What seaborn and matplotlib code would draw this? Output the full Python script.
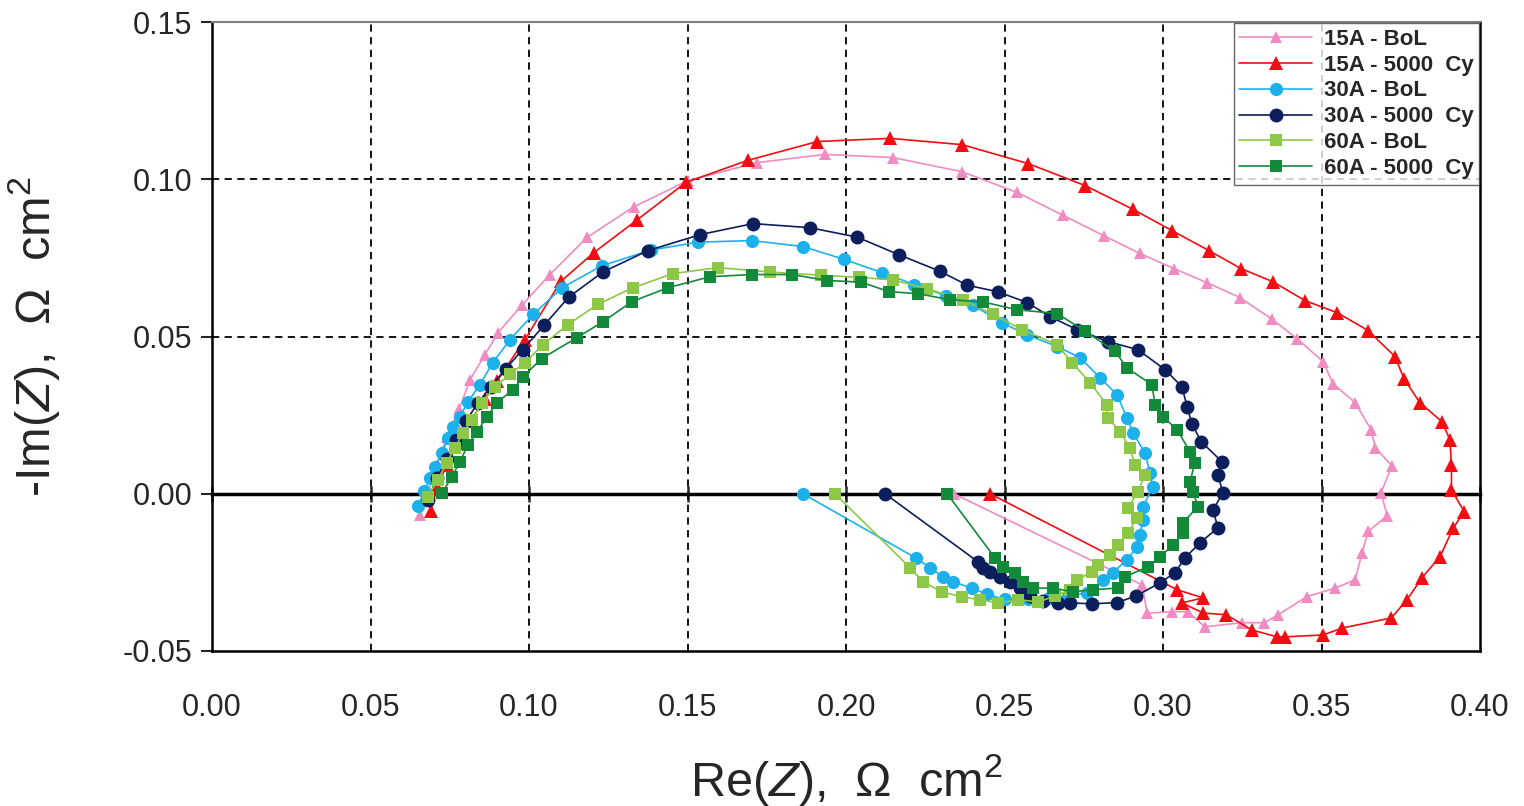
import numpy as np
import pandas as pd
import seaborn as sns
import matplotlib.pyplot as plt

# %% data (Re(Z), -Im(Z) in Ohm cm2)
labels = ['15A - BoL', '15A - 5000  Cy', '30A - BoL', '30A - 5000  Cy', '60A - BoL', '60A - 5000  Cy']

re_15_bol = [0.0656, 0.068, 0.071, 0.074, 0.078, 0.0814, 0.086, 0.0902, 0.0978, 0.1066, 0.1183, 0.133, 0.150, 0.172,
             0.1934, 0.2148, 0.2366, 0.254, 0.2685, 0.2814, 0.2927, 0.3035, 0.3139, 0.3242, 0.3344, 0.3423, 0.3505,
             0.3536, 0.3606, 0.3656, 0.367, 0.3722, 0.3688, 0.3707, 0.3647, 0.3628, 0.3606, 0.3543, 0.3454, 0.3363,
             0.332, 0.325, 0.3132, 0.3079, 0.3028, 0.295, 0.2934, 0.234]
im_15_bol = [-0.0067, 0.0, 0.009, 0.018, 0.027, 0.0363, 0.044, 0.0512, 0.060, 0.0697, 0.0815, 0.0912, 0.0995, 0.1053,
             0.1079, 0.1069, 0.1024, 0.0958, 0.0885, 0.082, 0.0764, 0.0716, 0.0671, 0.0624, 0.0555, 0.0493, 0.042,
             0.035, 0.029, 0.0204, 0.0146, 0.0089, 0.0003, -0.007, -0.012, -0.0188, -0.0274, -0.030, -0.0327, -0.0385,
             -0.041, -0.041, -0.0423, -0.0375, -0.0375, -0.038, -0.029, 0.0]

re_15_cy = [0.069, 0.071, 0.074, 0.0775, 0.0815, 0.086, 0.090, 0.0987, 0.110, 0.1205, 0.134, 0.1495, 0.169, 0.191,
            0.214, 0.2366, 0.2574, 0.2754, 0.2906, 0.3028, 0.3145, 0.3246, 0.3347, 0.3448, 0.3549, 0.3647, 0.3732,
            0.376, 0.381, 0.388, 0.3905, 0.391, 0.391, 0.395, 0.3915, 0.3874, 0.3817, 0.377, 0.372, 0.3565, 0.3505,
            0.3385, 0.336, 0.328, 0.320, 0.3126, 0.306, 0.3126, 0.3044, 0.2454]
im_15_cy = [-0.0055, 0.002, 0.009, 0.016, 0.023, 0.030, 0.036, 0.049, 0.0675, 0.0767, 0.087, 0.099, 0.106, 0.112,
            0.113, 0.111, 0.105, 0.098, 0.0904, 0.0837, 0.0773, 0.0716, 0.0674, 0.0614, 0.0576, 0.0519, 0.0436,
            0.0366, 0.029, 0.0229, 0.0172, 0.0092, 0.0013, -0.0057, -0.011, -0.020, -0.0267, -0.0337, -0.0395, -0.0427,
            -0.0449, -0.0455, -0.0455, -0.0433, -0.0385, -0.0379, -0.0347, -0.0331, -0.0305, 0.0]

re_30_bol = [0.065, 0.067, 0.0688, 0.0703, 0.0726, 0.0745, 0.076, 0.0782, 0.0808, 0.0845, 0.0886, 0.094, 0.1013,
             0.1104, 0.123, 0.1385, 0.1533, 0.1703, 0.1864, 0.1995, 0.2114, 0.2216, 0.2315, 0.240, 0.2492, 0.257,
             0.2666, 0.2738, 0.2801, 0.2855, 0.2886, 0.2905, 0.2943, 0.2959, 0.2968, 0.2937, 0.2937, 0.2927, 0.2918,
             0.2886, 0.2842, 0.281, 0.276, 0.270, 0.264, 0.2575, 0.250, 0.2445, 0.2397, 0.2338, 0.2306, 0.2265,
             0.222, 0.1864]
im_30_bol = [-0.004, 0.001, 0.005, 0.0086, 0.013, 0.0178, 0.0213, 0.0245, 0.0293, 0.0347, 0.0417, 0.049, 0.057,
             0.0655, 0.0725, 0.0775, 0.080, 0.0805, 0.0786, 0.0745, 0.0703, 0.0665, 0.063, 0.060, 0.0544, 0.0506,
             0.0468, 0.0433, 0.0369, 0.0315, 0.0242, 0.0194, 0.013, 0.0067, 0.0022, -0.0041, -0.0083, -0.013, -0.0169,
             -0.021, -0.0251, -0.0274, -0.0315, -0.0325, -0.033, -0.0335, -0.0335, -0.032, -0.030, -0.028, -0.0264,
             -0.0235, -0.0204, 0.0]

re_30_cy = [0.068, 0.071, 0.074, 0.077, 0.080, 0.084, 0.088, 0.0927, 0.098, 0.1047, 0.1125, 0.1233, 0.1375, 0.154,
            0.1707, 0.1886, 0.2035, 0.2167, 0.2295, 0.2383, 0.248, 0.2571, 0.2644, 0.2729, 0.2826, 0.2921, 0.3006,
            0.306, 0.3076, 0.3091, 0.312, 0.3186, 0.3173, 0.3189, 0.3158, 0.3173, 0.3117, 0.3069, 0.3038, 0.2991,
            0.2915, 0.2855, 0.2776, 0.2707, 0.2669, 0.262, 0.258, 0.255, 0.2517, 0.2486, 0.2454, 0.2432, 0.2416,
            0.2123]
im_30_cy = [-0.002, 0.005, 0.011, 0.017, 0.023, 0.029, 0.034, 0.0398, 0.0458, 0.0535, 0.0625, 0.0705, 0.0773, 0.0824,
            0.0859, 0.0846, 0.0816, 0.076, 0.0708, 0.0663, 0.0642, 0.0608, 0.0563, 0.0522, 0.0484, 0.0458, 0.0395,
            0.034, 0.0277, 0.0223, 0.0166, 0.0102, 0.006, 0.0003, -0.0051, -0.0108, -0.0156, -0.0204, -0.0251, -0.0283,
            -0.0325, -0.0346, -0.035, -0.0347, -0.0347, -0.034, -0.0325, -0.030, -0.028, -0.0264, -0.0248, -0.0235,
            -0.0216, 0.0]

re_60_bol = [0.068, 0.0713, 0.074, 0.0767, 0.0792, 0.082, 0.0852, 0.0893, 0.094, 0.0987, 0.1044, 0.1123, 0.1218,
             0.1328, 0.1454, 0.1596, 0.176, 0.192, 0.204, 0.2148, 0.2255, 0.2369, 0.2464, 0.2555, 0.2666, 0.2713,
             0.277, 0.2823, 0.2826, 0.2864, 0.2896, 0.2912, 0.2943, 0.2921, 0.289, 0.2918, 0.289, 0.2858, 0.2833,
             0.2795, 0.2776, 0.2729, 0.2707, 0.266, 0.2606, 0.2543, 0.248, 0.2423, 0.2366, 0.2303, 0.2243, 0.2202,
             0.1965]
im_60_bol = [-0.001, 0.0045, 0.0099, 0.0146, 0.0194, 0.0235, 0.029, 0.034, 0.038, 0.0417, 0.0474, 0.0538, 0.0603,
             0.0655, 0.070, 0.0719, 0.0705, 0.0695, 0.0688, 0.068, 0.0652, 0.0617, 0.057, 0.0522, 0.0474, 0.0417,
             0.0353, 0.0283, 0.0242, 0.0197, 0.0146, 0.0092, 0.006, 0.0006, -0.0045, -0.0076, -0.0124, -0.0162,
             -0.0194, -0.0226, -0.0248, -0.0274, -0.0305, -0.0325, -0.0344, -0.0337, -0.0347, -0.0337, -0.0328,
             -0.0312, -0.028, -0.0235, 0.0]

re_60_cy = [0.0726, 0.0757, 0.0782, 0.0808, 0.0836, 0.0868, 0.0899, 0.095, 0.0981, 0.104, 0.1151, 0.1233, 0.1325,
            0.1438, 0.1571, 0.1703, 0.183, 0.194, 0.2047, 0.2135, 0.2227, 0.2328, 0.2432, 0.254, 0.2666, 0.2754,
            0.2849, 0.2886, 0.2965, 0.2975, 0.300, 0.3044, 0.3085, 0.3101, 0.3085, 0.3095, 0.311, 0.3063, 0.3063,
            0.3032, 0.2991, 0.2953, 0.288, 0.2858, 0.2779, 0.2716, 0.2653, 0.259, 0.2558, 0.2533, 0.2495, 0.247,
            0.2319]
im_60_cy = [0.0003, 0.0054, 0.0102, 0.0156, 0.0197, 0.0245, 0.029, 0.0331, 0.0372, 0.043, 0.0496, 0.0547, 0.0611,
            0.0655, 0.069, 0.0697, 0.0697, 0.0678, 0.0673, 0.0643, 0.0636, 0.0617, 0.061, 0.0585, 0.0573, 0.0517,
            0.0453, 0.040, 0.0347, 0.0283, 0.0245, 0.0204, 0.0134, 0.0099, 0.0038, 0.0006, -0.0041, -0.0092, -0.0124,
            -0.0162, -0.020, -0.0232, -0.0264, -0.030, -0.0305, -0.0312, -0.030, -0.030, -0.028, -0.0251, -0.0232,
            -0.0204, 0.0]

x_ticks = [0.00, 0.05, 0.10, 0.15, 0.20, 0.25, 0.30, 0.35, 0.40]
y_ticks = [-0.05, 0.00, 0.05, 0.10, 0.15]

# %% styling
colors = ['#F08CC2', '#F20D12', '#1DB1EC', '#0C1E5C', '#8CC846', '#128A3A']
markers = ['^', '^', 'o', 'o', 's', 's']
msizes = [9, 10, 9.5, 10, 9, 9]

series = [(re_15_bol, im_15_bol), (re_15_cy, im_15_cy), (re_30_bol, im_30_bol),
          (re_30_cy, im_30_cy), (re_60_bol, im_60_bol), (re_60_cy, im_60_cy)]

sns.set_style('white')
plt.rcParams['font.family'] = ['Liberation Sans', 'DejaVu Sans']
plt.rcParams['mathtext.fontset'] = 'custom'
plt.rcParams['mathtext.rm'] = 'Liberation Sans'
plt.rcParams['mathtext.it'] = 'Liberation Sans:italic'

fig = plt.figure(figsize=(15.24, 8.06), dpi=100)
ax = fig.add_axes([212 / 1524, 1 - 651 / 806, 1268 / 1524, 629 / 806])

# grid first so it sits below the data
for xv in x_ticks[1:-1]:
    ax.axvline(xv, color='black', lw=1.3, ls=(0, (4, 3)), zorder=1)
for yv in [0.05, 0.10]:
    ax.axhline(yv, color='black', lw=1.3, ls=(0, (4, 3)), zorder=1)

for (xs, ys), lab, c, m, s in zip(series, labels, colors, markers, msizes):
    df = pd.DataFrame({'re': xs, 'im': ys})
    sns.lineplot(data=df, x='re', y='im', sort=False, estimator=None, color=c, marker=m,
                 markersize=s, markeredgewidth=0, linewidth=1.2, label=lab, ax=ax, zorder=3)

ax.set_xlim(0, 0.40)
ax.set_ylim(-0.05, 0.15)
ax.set_xticks(x_ticks)
ax.set_xticklabels([f'{v:.2f}' for v in x_ticks])
ax.set_yticks(y_ticks)
ax.set_yticklabels([f'{v:.2f}' for v in y_ticks])
ax.tick_params(axis='x', length=0, pad=30, labelsize=22)
ax.tick_params(axis='y', direction='out', length=8, width=1.5, pad=6, labelsize=22, left=True)

for side in ['left', 'right', 'bottom']:
    ax.spines[side].set_color('black')
    ax.spines[side].set_linewidth(1.8)
ax.spines['top'].set_color('#808080')
ax.spines['top'].set_linewidth(1.5)

# zero line acts as the x axis with its tick marks
sec = ax.secondary_xaxis(0.25)
sec.set_xticks(x_ticks)
sec.tick_params(axis='x', direction='inout', length=12, width=1.8, labelbottom=False)
sec.spines['bottom'].set_linewidth(2.5)
sec.spines['bottom'].set_color('black')

ax.set_xlabel(r'Re($\it{Z}$),  $\Omega$  cm$^2$', fontsize=35)
ax.set_ylabel(r'-Im($\it{Z}$),  $\Omega$  cm$^2$', fontsize=35)
ax.xaxis.set_label_coords(0.5, -0.16)
ax.yaxis.set_label_coords(-0.118, 0.5)

leg = ax.legend(loc='upper right', bbox_to_anchor=(1.0, 1.0), fontsize=16, handlelength=3.3,
                labelspacing=0.22, borderpad=0.25, handletextpad=0.5, frameon=True, fancybox=False,
                borderaxespad=0.05)
leg.get_frame().set_edgecolor('#404040')
leg.get_frame().set_linewidth(1.0)
for t in leg.get_texts():
    t.set_fontweight('bold')

fig.savefig('out.png', dpi=100)
